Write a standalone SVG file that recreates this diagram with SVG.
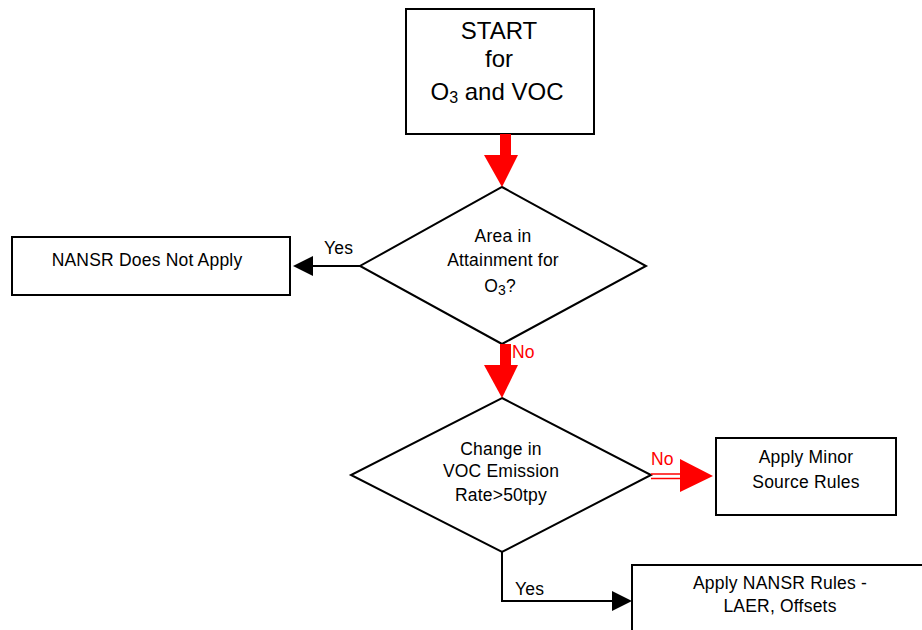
<svg xmlns="http://www.w3.org/2000/svg" width="922" height="630" viewBox="0 0 922 630">
<defs>
<style>
.box{fill:#fff;stroke:#000;stroke-width:2}
.t{font-family:"Liberation Sans",Arial,sans-serif;font-size:17.5px;fill:#000;text-anchor:middle;letter-spacing:0.2px}
.big{font-size:24px;letter-spacing:0}
.red{fill:#f00;text-anchor:start}
.lab{text-anchor:start}
.ln{stroke:#000;stroke-width:2;fill:none}
</style>
</defs>
<rect width="922" height="630" fill="#fff"/>
<g id="start">
<rect class="box" x="406" y="9" width="188" height="125"/>
<text class="t big" x="499" y="39">START</text>
<text class="t big" x="499" y="67">for</text>
<text class="t big" x="497" y="100">O<tspan font-size="16" dy="3">3</tspan><tspan dy="-3"> and VOC</tspan></text>
</g>
<g id="d1">
<polygon class="box" points="502,187 646,266 502,344 360,266"/>
<text class="t" x="503" y="242">Area in</text>
<text class="t" x="503" y="266">Attainment for</text>
<text class="t" x="500" y="292">O<tspan font-size="14" dy="3">3</tspan><tspan dy="-3">?</tspan></text>
</g>
<g id="nansr-na">
<rect class="box" x="12" y="237" width="278" height="58"/>
<text class="t" x="147" y="266">NANSR Does Not Apply</text>
</g>
<g id="d2">
<polygon class="box" points="502,398 651,475 502,552 351,475"/>
<text class="t" x="501" y="455">Change in</text>
<text class="t" x="501" y="477">VOC Emission</text>
<text class="t" x="501" y="501">Rate&gt;50tpy</text>
</g>
<g id="minor">
<rect class="box" x="716" y="438" width="180" height="77"/>
<text class="t" x="806" y="463">Apply Minor</text>
<text class="t" x="806" y="488">Source Rules</text>
</g>
<g id="nansr-rules">
<rect class="box" x="632" y="565" width="300" height="80"/>
<text class="t" x="780" y="589">Apply NANSR Rules -</text>
<text class="t" x="780" y="612">LAER, Offsets</text>
</g>
<g id="connectors">
<rect x="500" y="134" width="11" height="22" fill="#f00"/>
<polygon points="484,155 518,155 502,187" fill="#f00"/>
<line class="ln" x1="360" y1="266" x2="310" y2="266"/>
<polygon points="293,266 313,256 313,276" fill="#000"/>
<text class="t lab" x="324" y="254">Yes</text>
<rect x="500" y="344" width="11" height="22" fill="#f00"/>
<polygon points="484,365 518,365 502,398" fill="#f00"/>
<text class="t red" x="512" y="358">No</text>
<line x1="651" y1="474" x2="682" y2="474" stroke="#f00" stroke-width="1.5"/>
<line x1="651" y1="478.5" x2="682" y2="478.5" stroke="#f00" stroke-width="1.5"/>
<polygon points="680,459 713,476 680,492" fill="#f00"/>
<text class="t red" x="651" y="465">No</text>
<polyline class="ln" points="502,552 502,601 614,601"/>
<polygon points="632,601 612,591 612,611" fill="#000"/>
<text class="t lab" x="515" y="595">Yes</text>
</g>
</svg>
